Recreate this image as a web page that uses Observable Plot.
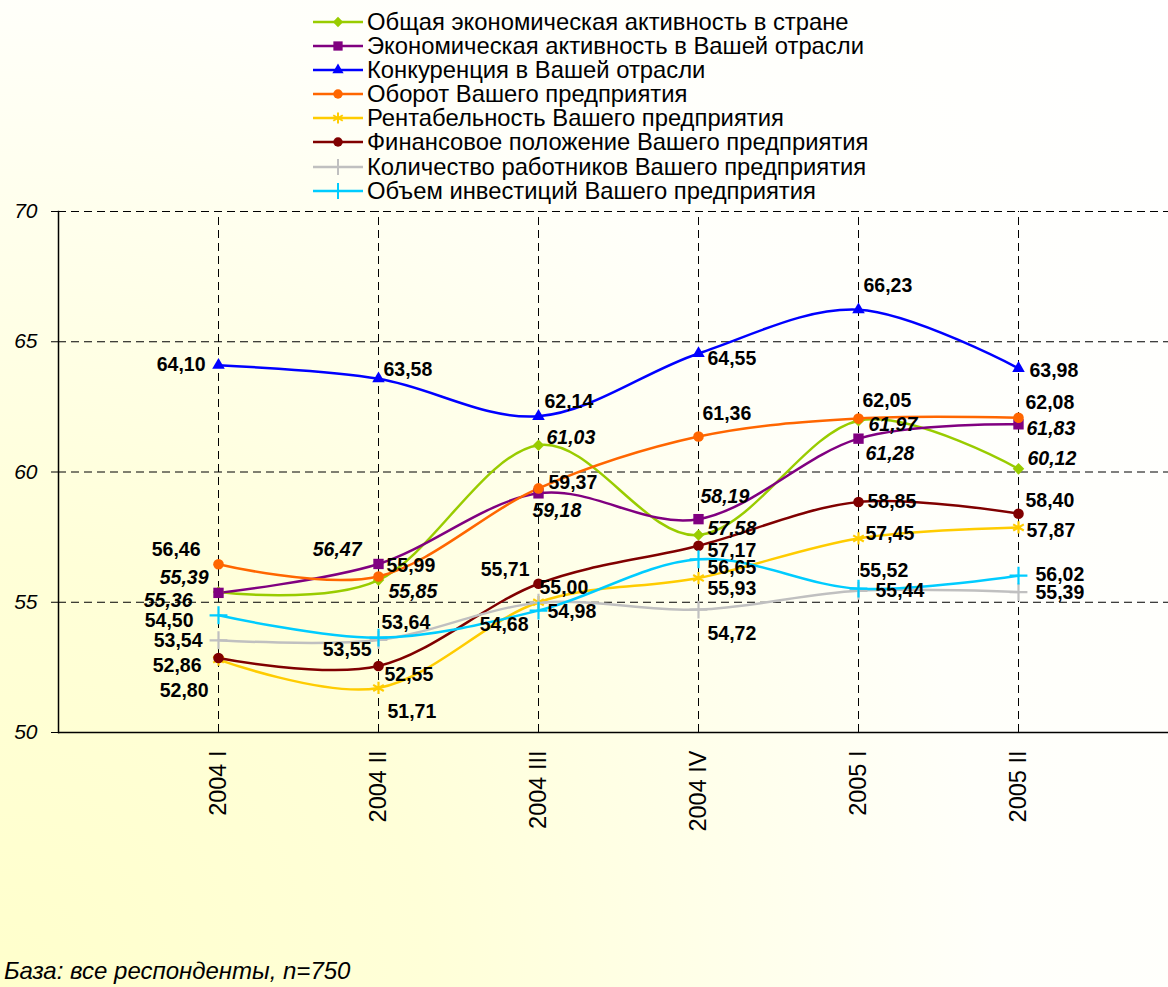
<!DOCTYPE html>
<html><head><meta charset="utf-8">
<script src="https://cdn.jsdelivr.net/npm/d3@7"></script>
<script src="https://cdn.jsdelivr.net/npm/@observablehq/plot@0.6"></script>
<style>
html,body{margin:0;padding:0;}
body{width:1168px;height:987px;overflow:hidden;font-family:"Liberation Sans",Arial,sans-serif;}
#page{position:relative;width:1168px;height:987px;overflow:hidden;
  background:radial-gradient(circle farthest-corner at 0% 100%, #ffffcc 0%, #ffffd8 28%, #ffffec 50%, #fffffa 65%, #ffffff 100%);}
#legend{position:relative;height:200px;}
.lrow{position:absolute;left:313px;height:24px;display:flex;align-items:center;white-space:nowrap;}
.lrow span{font-size:23.8px;color:#000;margin-left:4px;line-height:24px;}
#chart{position:relative;}
#footer{position:absolute;left:4px;top:957px;font-size:24px;font-style:italic;color:#000;white-space:nowrap;}
</style>
</head>
<body>
<div id="page">
  <div id="legend"></div>
  <div id="chart"></div>
  <div id="footer"></div>
</div>
<script>
// ---- data ----
const categories = ["2004 I", "2004 II", "2004 III", "2004 IV", "2005 I", "2005 II"];
const seriesNames = [
  "Общая экономическая активность в стране",
  "Экономическая активность в Вашей отрасли",
  "Конкуренция в Вашей отрасли",
  "Оборот Вашего предприятия",
  "Рентабельность Вашего предприятия",
  "Финансовое положение Вашего предприятия",
  "Количество работников Вашего предприятия",
  "Объем инвестиций Вашего предприятия"
];
const generalActivity  = [55.39, 55.85, 61.03, 57.58, 61.97, 60.12];
const industryActivity = [55.36, 56.47, 59.18, 58.19, 61.28, 61.83];
const competition      = [64.10, 63.58, 62.14, 64.55, 66.23, 63.98];
const turnover         = [56.46, 55.99, 59.37, 61.36, 62.05, 62.08];
const profitability    = [52.80, 51.71, 55.00, 55.93, 57.45, 57.87];
const finance          = [52.86, 52.55, 55.71, 57.17, 58.85, 58.40];
const employees        = [53.54, 53.55, 54.98, 54.72, 55.44, 55.39];
const investment       = [54.50, 53.64, 54.68, 56.65, 55.52, 56.02];
const yTicks = [50, 55, 60, 65, 70];
const gridValues = [55, 60, 65, 70];
const footnote = "База: все респонденты, n=750";

// ---- styles / layout (not data) ----
const seriesStyle = [
  {color: "#99cc00", symbol: "diamond2", r: 5.2, filled: true,  italic: true},
  {color: "#800080", symbol: "square2",  r: 6.6, filled: true,  italic: true},
  {color: "#0000ff", symbol: "triangle2",r: 6.0, filled: true,  italic: false},
  {color: "#ff6600", symbol: "circle",   r: 5.3, filled: true,  italic: false},
  {color: "#ffcc00", symbol: "asterisk", r: 5.8, filled: false, italic: false},
  {color: "#800000", symbol: "circle",   r: 5.3, filled: true,  italic: false},
  {color: "#c0c0c0", symbol: "plus",     r: 5.8, filled: false, italic: false},
  {color: "#00ccff", symbol: "plus",     r: 5.8, filled: false, italic: false}
];
// [anchor, dx, dy] per label
const labelLayout = [
  [["end",-10,-14],["start",10,12],["start",8,-7],["start",9,-6],["start",10,4],["start",9,-10]],
  [["end",-26,8],["end",-17,-14],["start",-6,17],["start",2,-22],["start",7,15],["start",8,4]],
  [["end",-13,0],["start",5,-9],["start",6,-15],["start",9,5],["start",5,-24],["start",11,2]],
  [["end",-18,-14],["start",8,-11],["start",10,-6],["start",4,-23],["start",4,-18],["start",7,-15]],
  [["end",-10,31],["start",9,24],["start",1,-15],["start",9,11],["start",7,-5],["start",8,3]],
  [["end",-17,8],["start",6,9],["end",-9,-14],["start",9,5],["start",9,0],["start",7,-13]],
  [["end",-16,0],["end",-7,10],["start",9,9],["start",9,24],["start",17,0],["start",17,1]],
  [["end",-25,5],["start",3,-15],["end",-10,14],["start",9,8],["start",1,-18],["start",17,-1]]
];

const seriesValues = [generalActivity, industryActivity, competition, turnover,
                      profitability, finance, employees, investment];
const fmt = v => d3.format(".2f")(v).replace(".", ",");

document.getElementById("footer").textContent = footnote;

// ---- legend ----
const legend = document.getElementById("legend");
const symMap = {diamond2: d3.symbolDiamond2, square2: d3.symbolSquare2, triangle2: d3.symbolTriangle2,
                circle: d3.symbolCircle, asterisk: d3.symbolAsterisk, plus: d3.symbolPlus};
seriesNames.forEach((name, k) => {
  const st = seriesStyle[k];
  const row = document.createElement("div");
  row.className = "lrow";
  row.style.top = (21.7 + 24.15 * k - 12) + "px";
  const ns = "http://www.w3.org/2000/svg";
  const svg = document.createElementNS(ns, "svg");
  svg.setAttribute("width", 50); svg.setAttribute("height", 24);
  const ln = document.createElementNS(ns, "line");
  ln.setAttribute("x1", 0); ln.setAttribute("x2", 50);
  ln.setAttribute("y1", 12); ln.setAttribute("y2", 12);
  ln.setAttribute("stroke", st.color); ln.setAttribute("stroke-width", 2.5);
  svg.appendChild(ln);
  const p = document.createElementNS(ns, "path");
  p.setAttribute("d", d3.symbol(symMap[st.symbol], Math.PI * st.r * st.r * 0.8)());
  p.setAttribute("transform", "translate(25,12)");
  if (st.filled) { p.setAttribute("fill", st.color); }
  else { p.setAttribute("fill", "none"); p.setAttribute("stroke", st.color); p.setAttribute("stroke-width", 2); }
  svg.appendChild(p);
  row.appendChild(svg);
  const sp = document.createElement("span");
  sp.textContent = name;
  row.appendChild(sp);
  legend.appendChild(row);
});

// ---- chart ----
const rows = [];
seriesValues.forEach((vals, k) => vals.forEach((v, i) => rows.push({k, series: seriesNames[k], cat: categories[i], value: v, i})));

const marks = [
  Plot.ruleY(gridValues, {stroke: "#000", strokeWidth: 1, strokeDasharray: "8,5"}),
  Plot.ruleX(categories, {x: d => d, y1: 50, y2: 70, stroke: "#000", strokeWidth: 1, strokeDasharray: "8,5"}),
  Plot.ruleY([50], {stroke: "#000", strokeWidth: 1.5}),
  Plot.frame({anchor: "left", stroke: "#000", strokeWidth: 1.5}),
  Plot.axisY({ticks: yTicks, tickSize: 7, tickPadding: 14, fontSize: 21, fontStyle: "italic", tickFormat: d => String(d), label: null, stroke: "#000"}),
  Plot.axisX({tickRotate: -90, tickSize: 0, tickPadding: 18, fontSize: 23.5, label: null})
];
seriesValues.forEach((vals, k) => {
  const st = seriesStyle[k];
  const data = rows.filter(d => d.k === k);
  marks.push(Plot.line(data, {x: "cat", y: "value", stroke: st.color, strokeWidth: 2.5, curve: "cardinal", tension: 0}));
});
seriesValues.forEach((vals, k) => {
  const st = seriesStyle[k];
  const data = rows.filter(d => d.k === k);
  const opts = {x: "cat", y: "value", symbol: () => st.symbol, r: st.r};
  if (st.filled) { opts.fill = st.color; opts.stroke = "none"; }
  else { opts.fill = "none"; opts.stroke = st.color; opts.strokeWidth = 2.2; }
  marks.push(Plot.dot(data, opts));
});
rows.forEach(d => {
  const st = seriesStyle[d.k];
  const [anchor, dx, dy] = labelLayout[d.k][d.i];
  marks.push(Plot.text([d], {x: "cat", y: "value", text: r => fmt(r.value), textAnchor: anchor, dx, dy,
    lineAnchor: "middle", fontSize: 19.5, fontWeight: "bold", fontStyle: st.italic ? "italic" : "normal", fill: "#000"}));
});

const chart = Plot.plot({
  width: 1168,
  height: 700,
  marginLeft: 58,
  marginRight: 0,
  marginTop: 11,
  marginBottom: 168,
  style: {background: "transparent", fontFamily: "'Liberation Sans', Arial, sans-serif", color: "#000", overflow: "visible"},
  x: {type: "point", domain: categories, padding: 1, range: [58, 1178]},
  y: {domain: [50, 70]},
  symbol: {type: "identity"},
  marks
});
document.getElementById("chart").appendChild(chart);
</script>
</body></html>
